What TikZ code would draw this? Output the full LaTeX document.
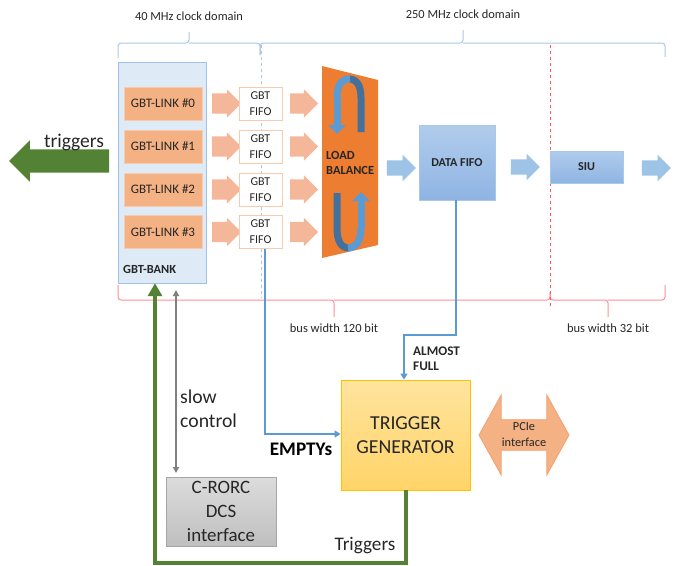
\documentclass[tikz,border=0pt]{standalone}
\usepackage{fontspec}
\setmainfont{Carlito}
\usetikzlibrary{shapes.arrows,arrows.meta}
\definecolor{txt}{HTML}{262626}
\definecolor{bankfill}{HTML}{DEEBF7}
\definecolor{bankdraw}{HTML}{9DC3E6}
\definecolor{linkfill}{HTML}{F4B183}
\definecolor{linkdraw}{HTML}{F8CBAD}
\definecolor{arrowor}{HTML}{F4B79A}
\definecolor{lborange}{HTML}{ED7D31}
\definecolor{ringblue}{HTML}{5B9BD5}
\definecolor{ringdark}{HTML}{41719C}
\definecolor{arrowbl}{HTML}{9DC3E6}
\definecolor{fifotop}{HTML}{B0CCEC}
\definecolor{fifobot}{HTML}{8FB4E3}
\definecolor{linebl}{HTML}{5B9BD5}
\definecolor{bracebl}{HTML}{A9C8E8}
\definecolor{bracered}{HTML}{FF8F92}
\definecolor{dashred}{HTML}{FF5B5B}
\definecolor{grn}{HTML}{548235}
\definecolor{gry}{HTML}{808080}
\definecolor{trigtop}{HTML}{FFE49E}
\definecolor{trigbot}{HTML}{FFD468}
\definecolor{trigdraw}{HTML}{FFC000}
\definecolor{dcstop}{HTML}{DCDCDC}
\definecolor{dcsbot}{HTML}{BFBFBF}
\definecolor{dcsdraw}{HTML}{A6A6A6}
\definecolor{pcifill}{HTML}{F4B183}
\definecolor{pcidraw}{HTML}{F4A070}
\tikzset{
  lnk/.style={rectangle, fill=linkfill, draw=linkdraw, minimum width=78pt, minimum height=33pt, inner sep=0pt, text=txt, font=\fontsize{13}{13}\selectfont},
  fifobox/.style={rectangle, fill=white, draw=linkdraw, minimum width=43pt, minimum height=33pt, inner sep=0pt, align=center, text=txt, font=\fontsize{12}{16}\selectfont},
  oarrow/.style={single arrow, fill=arrowor, draw=none, minimum height=29pt, inner xsep=0pt, inner ysep=10pt, single arrow head extend=4pt},
  barrow/.style={single arrow, fill=arrowbl, draw=none, minimum height=29pt, inner xsep=0pt, inner ysep=7.5pt, single arrow head extend=5.5pt},
  lbl/.style={text=txt, inner sep=0pt, font=\fontsize{12.4}{12.4}\selectfont},
  bluewire/.style={draw=linebl, line width=2pt},
}
\begin{document}
\begin{tikzpicture}[x=1pt,y=-1pt]
\useasboundingbox (0,0) rectangle (676,565);

% clock domain braces
\node[lbl] (t40) at (189,16) {40 MHz clock domain};
\node[lbl] (t250) at (463,14) {250 MHz clock domain};
\draw[bracebl, line width=1pt, rounded corners=3pt] (118,58) -- (118,43) -- (189,43) -- (189,32);
\draw[bracebl, line width=1pt, rounded corners=3pt] (189,43) -- (260,43) -- (260,55);
\draw[bracebl, line width=1pt, rounded corners=3pt] (260,55) -- (260,43) -- (463,43) -- (463,30);
\draw[bracebl, line width=1pt, rounded corners=3pt] (463,43) -- (665,43) -- (665,57);
\draw[bracebl, line width=1pt, dashed] (261,45) -- (261,298);

% bus width braces
\draw[bracered, line width=1pt, rounded corners=3pt] (118,285) -- (118,300) -- (334,300) -- (334,317);
\draw[bracered, line width=1pt, rounded corners=3pt] (334,300) -- (550,300) -- (550,292);
\draw[bracered, line width=1pt, rounded corners=3pt] (550,292) -- (550,300) -- (608,300) -- (608,317);
\draw[bracered, line width=1pt, rounded corners=3pt] (608,300) -- (665,300) -- (665,285);
\draw[dashred, line width=0.8pt, dashed] (550,45) -- (550,308);
\node[lbl, font=\fontsize{12.5}{12.5}\selectfont] (bw120) at (334,328) {bus width 120 bit};
\node[lbl, font=\fontsize{12.5}{12.5}\selectfont] (bw32) at (608,328) {bus width 32 bit};

% GBT bank
\node[rectangle, fill=bankfill, draw=bankdraw, minimum width=88pt, minimum height=221pt, inner sep=0pt] (bank) at (162,172.5) {};
\node[text=txt, font=\bfseries\fontsize{12.4}{12.4}\selectfont, anchor=west, inner sep=0pt] (banklbl) at (123,269) {GBT-BANK};

\foreach \i/\yy in {0/103.5,1/146.5,2/189.5,3/232} {
  \node[lnk] (link\i) at (163,\yy) {GBT-LINK \#\i};
  \node[oarrow] (oa\i) at (221.5,\yy) {};
  \node[fifobox] (fifo\i) at (260.5,\yy) {GBT\\FIFO};
  \node[oarrow, minimum height=28pt] (ob\i) at (299,\yy) {};
}

% load balance
\fill[lborange] (322,66) -- (378,80) -- (378,245) -- (322,258) -- cycle;
\draw[ringdark, line width=7pt] (349,79) .. controls (357,79) and (361,86) .. (361,98) -- (361,132);
\draw[ringblue, line width=7pt] (337,98) .. controls (337,84) and (342,79) .. (350,79);
\draw[ringblue, line width=7pt, -{Triangle[length=9pt,width=17pt]}] (337,97) -- (337,134);
\draw[ringdark, line width=7pt] (337,193) -- (337,228) .. controls (337,241) and (341,248) .. (349,248);
\draw[ringblue, line width=7pt] (348,248) .. controls (356,248) and (361,241) .. (361,228);
\draw[ringblue, line width=7pt, -{Triangle[length=9pt,width=17pt]}] (361,229) -- (361,192);
\node[text=txt, font=\bfseries\fontsize{12.4}{15}\selectfont, align=left, anchor=west, inner sep=0pt] (lb) at (326,162.5) {LOAD\\BALANCE};

\node[barrow] (ba) at (397.5,168) {};
\node[rectangle, top color=fifotop, bottom color=fifobot, draw=bracebl, minimum width=76pt, minimum height=75pt, inner sep=0pt, text=txt, font=\bfseries\fontsize{12.1}{12.1}\selectfont] (dfifo) at (457,162.5) {DATA FIFO};
\node[barrow] (bb) at (521.5,167) {};
\node[rectangle, top color=fifotop, bottom color=fifobot, draw=bracebl, minimum width=73pt, minimum height=32pt, inner sep=0pt, text=txt, font=\bfseries\fontsize{12.1}{12.1}\selectfont] (siu) at (586.5,167) {SIU};
\node[barrow] (bc) at (652.5,168) {};

% triggers left arrow
\node[single arrow, shape border rotate=180, fill=grn, draw=none, minimum height=100pt, inner xsep=0pt, inner ysep=11.5pt, single arrow head extend=9pt] (trgout) at (65,161) {};
\node[text=txt, font=\fontsize{19.5}{19.5}\selectfont, inner sep=0pt] (trgtxt) at (74,142) {triggers};

% trigger generator
\node[rectangle, top color=trigtop, bottom color=trigbot, draw=trigdraw, line width=0.8pt, minimum width=129pt, minimum height=110pt, inner sep=0pt, align=center, text=txt, font=\fontsize{19.8}{24}\selectfont] (trig) at (405.5,435) {TRIGGER\\GENERATOR};

% PCIe
\node[double arrow, fill=pcifill, draw=pcidraw, line width=0.8pt, minimum height=90pt, minimum width=80pt, double arrow head extend=20pt, double arrow tip angle=122, inner sep=0pt, align=center, text=txt, font=\fontsize{12.3}{16}\selectfont] (pcie) at (524,435) {PCIe\\interface};

% C-RORC
\node[rectangle, top color=dcstop, bottom color=dcsbot, draw=dcsdraw, line width=0.8pt, minimum width=110pt, minimum height=69pt, inner sep=0pt, align=center, text=txt, font=\fontsize{18.9}{24}\selectfont] (dcs) at (221,511.5) {C-RORC\\DCS\\interface};

% slow control
\coordinate (scTop) at (176,290);
\coordinate (scBot) at (176,473);
\draw[gry, line width=1.5pt, {Triangle[length=6pt,width=6pt]}-{Triangle[length=6pt,width=6pt]}] (scTop) -- (scBot);
\node[text=txt, font=\fontsize{19.7}{24}\selectfont, align=left, anchor=west, inner sep=0pt] (sctxt) at (180,409) {slow\\control};

% EMPTYs
\coordinate (em1) at (265,434);
\draw[bluewire, -{Triangle[length=6pt,width=7pt]}] (fifo3.south -| 265,0) -- (em1) -- (trig.west |- em1);
\node[text=black, font=\bfseries\fontsize{19.2}{19.2}\selectfont, inner sep=0pt] (emtxt) at (301,449) {EMPTYs};

% ALMOST FULL
\coordinate (af1) at (456,335);
\coordinate (af2) at (404,335);
\draw[bluewire, -{Triangle[length=6pt,width=7pt]}] (dfifo.south -| af1) -- (af1) -- (af2) -- (trig.north -| af2);
\node[text=txt, inner sep=0pt, align=left, anchor=west, font=\bfseries\fontsize{13.2}{15}\selectfont] (aftxt) at (413,358.5) {ALMOST\\FULL};

% Triggers back to bank
\coordinate (g1) at (406,563);
\coordinate (g2) at (155,563);
\draw[grn, line width=4pt, -{Triangle[length=13pt,width=14pt]}] (trig.south -| g1) -- (g1) -- (g2) -- (bank.south -| g2);
\node[text=txt, font=\fontsize{19.2}{19.2}\selectfont, inner sep=0pt] (trgtxt2) at (365,546) {Triggers};
\end{tikzpicture}
\end{document}
